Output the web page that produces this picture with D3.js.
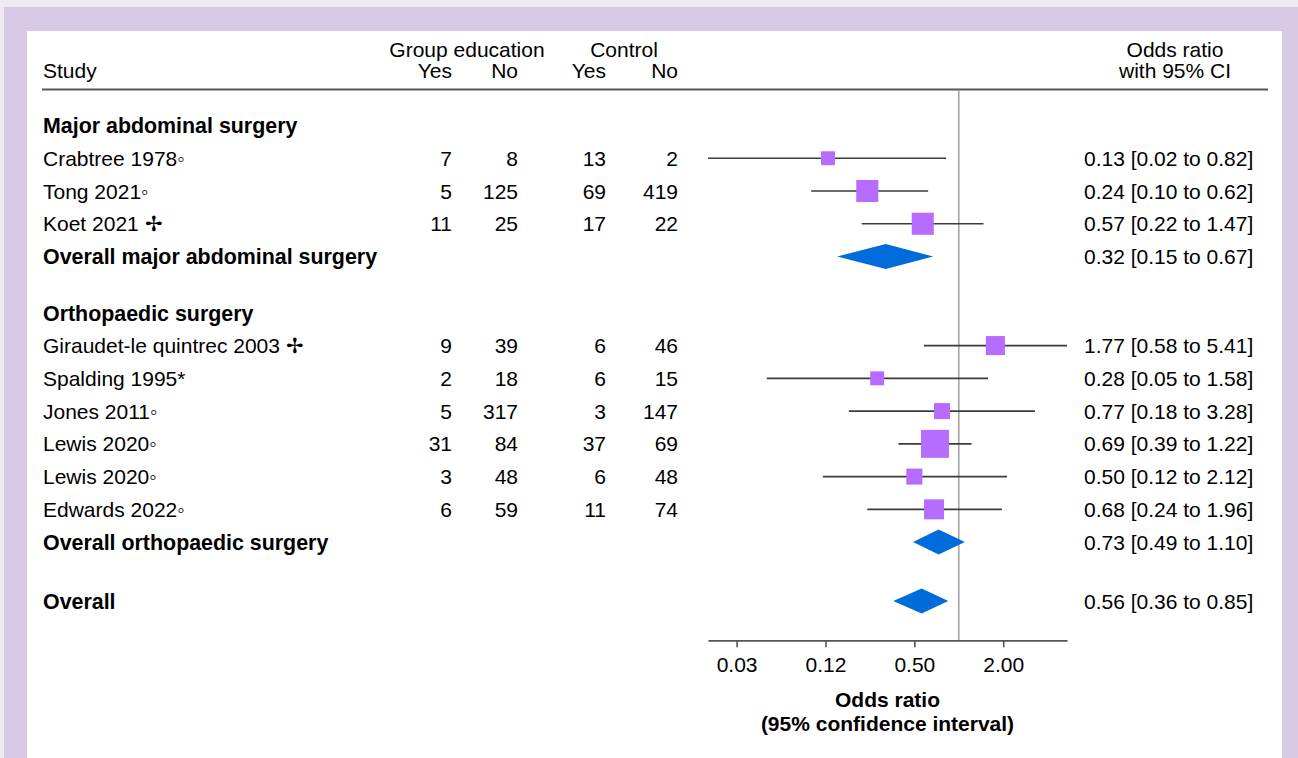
<!DOCTYPE html>
<html>
<head>
<meta charset="utf-8">
<script src="https://cdn.jsdelivr.net/npm/d3@7"></script>
<style>
body { margin: 0; background: #fff; }
text { font-family: "Liberation Sans", Arial, sans-serif; font-size: 21px; fill: #000; }
</style>
</head>
<body>
<div id="chart"></div>
<script>
// study level data
const studies = ["Crabtree 1978\u25E6", "Tong 2021\u25E6", "Koet 2021 \u2722",
    "Giraudet-le quintrec 2003 \u2722", "Spalding 1995*", "Jones 2011\u25E6",
    "Lewis 2020\u25E6", "Lewis 2020\u25E6", "Edwards 2022\u25E6"];
const sectionOf = [0, 0, 0, 1, 1, 1, 1, 1, 1];
const geYes = [7, 5, 11, 9, 2, 5, 31, 3, 6];
const geNo = [8, 125, 25, 39, 18, 317, 84, 48, 59];
const ctYes = [13, 69, 17, 6, 6, 3, 37, 6, 11];
const ctNo = [2, 419, 22, 46, 15, 147, 69, 48, 74];
const orEst = [0.13, 0.24, 0.57, 1.77, 0.28, 0.77, 0.69, 0.50, 0.68];
const orLow = [0.02, 0.10, 0.22, 0.58, 0.05, 0.18, 0.39, 0.12, 0.24];
const orHigh = [0.82, 0.62, 1.47, 5.41, 1.58, 3.28, 1.22, 2.12, 1.96];
// approximate weights (%)
const weights = [5.7, 14.2, 14.2, 10.6, 5.7, 7.5, 22.9, 7.5, 11.7];

// pooled estimates
const sections = ["Major abdominal surgery", "Orthopaedic surgery"];
const pooledLabels = ["Overall major abdominal surgery", "Overall orthopaedic surgery", "Overall"];
const pooledEst = [0.32, 0.73, 0.56];
const pooledLow = [0.15, 0.49, 0.36];
const pooledHigh = [0.67, 1.10, 0.85];

// axis ticks
const tickValues = [0.03125, 0.125, 0.5, 2];
const tickLabels = ["0.03", "0.12", "0.50", "2.00"];

const W = 1298, H = 758;
const fmt = d3.format(".2f");

//Build the list of rows in the order they are drawn
const rows = [];
let pos = 0;
sections.forEach((s, si) => {
    if (si > 0) pos += 0.72;
    rows.push({type: "section", label: s, pos: pos++});
    studies.forEach((st, i) => {
        if (sectionOf[i] !== si) return;
        rows.push({type: "study", i: i, label: st, pos: pos++});
    });
    rows.push({type: "pooled", i: si, label: pooledLabels[si], pos: pos++});
});
pos += 0.8;
rows.push({type: "pooled", i: 2, label: pooledLabels[2], pos: pos++});

const svg = d3.select("#chart").append("svg")
    .attr("width", W)
    .attr("height", H);

//Lavender frame with the white panel inside
svg.append("rect").attr("width", W).attr("height", H).attr("fill", "#efe9f3");
svg.append("rect").attr("x", 4).attr("y", 7).attr("width", W - 4).attr("height", H - 7).attr("fill", "#d8cae4");
svg.append("rect").attr("x", 27).attr("y", 31).attr("width", 1282 - 27).attr("height", H - 31).attr("fill", "#fff");

const y = d3.scaleLinear().domain([0, 1]).range([125.5, 158.25]);
const x = d3.scaleLog().base(2).domain([0.02, 5.41]).range([708, 1067]);
const boxSize = d3.scaleSqrt().domain([0, d3.max(weights)]).range([0, 28]);
const axisY = y(pos + 0.2);

//Column headers
const cols = [452, 518, 606, 678];
const head = svg.append("g");
head.append("text").attr("x", 43).attr("y", 78).text("Study");
head.append("text").attr("x", 467).attr("y", 57).attr("text-anchor", "middle").text("Group education");
head.append("text").attr("x", 624).attr("y", 57).attr("text-anchor", "middle").text("Control");
["Yes", "No", "Yes", "No"].forEach((t, i) => {
    head.append("text").attr("x", cols[i]).attr("y", 78).attr("text-anchor", "end").text(t);
});
head.append("text").attr("x", 1175).attr("y", 57).attr("text-anchor", "middle").text("Odds ratio");
head.append("text").attr("x", 1175).attr("y", 78).attr("text-anchor", "middle").text("with 95% CI");
head.append("line")
    .attr("x1", 42).attr("x2", 1268)
    .attr("y1", 89.5).attr("y2", 89.5)
    .attr("stroke", "#555").attr("stroke-width", 2);

//Line of no effect
svg.append("line")
    .attr("x1", x(1)).attr("x2", x(1))
    .attr("y1", 90).attr("y2", axisY)
    .attr("stroke", "#a0a0a0").attr("stroke-width", 1.5);

//Row labels
svg.selectAll("text.rowLabel")
    .data(rows)
    .join("text")
    .attr("class", "rowLabel")
    .attr("x", 43)
    .attr("y", d => y(d.pos))
    .attr("dy", "0.36em")
    .style("font-weight", d => d.type === "study" ? "normal" : "bold")
    .style("font-size", d => d.type === "study" ? "21px" : "21.4px")
    .text(d => d.label);

const studyRows = rows.filter(d => d.type === "study");
const pooledRows = rows.filter(d => d.type === "pooled");

//Counts
[geYes, geNo, ctYes, ctNo].forEach((arr, c) => {
    svg.selectAll("text.count" + c)
        .data(studyRows)
        .join("text")
        .attr("class", "count" + c)
        .attr("x", cols[c])
        .attr("y", d => y(d.pos))
        .attr("dy", "0.36em")
        .attr("text-anchor", "end")
        .text(d => arr[d.i]);
});

//Confidence intervals
svg.selectAll("line.ci")
    .data(studyRows)
    .join("line")
    .attr("class", "ci")
    .attr("x1", d => x(orLow[d.i]))
    .attr("x2", d => x(orHigh[d.i]))
    .attr("y1", d => y(d.pos))
    .attr("y2", d => y(d.pos))
    .attr("stroke", "#3c3c3c")
    .attr("stroke-width", 1.6);

//Study boxes sized by weight
svg.selectAll("rect.box")
    .data(studyRows)
    .join("rect")
    .attr("class", "box")
    .attr("x", d => x(orEst[d.i]) - boxSize(weights[d.i]) / 2)
    .attr("y", d => y(d.pos) - boxSize(weights[d.i]) / 2)
    .attr("width", d => boxSize(weights[d.i]))
    .attr("height", d => boxSize(weights[d.i]))
    .attr("fill", "#b56cff");

//Pooled diamonds
svg.selectAll("path.diamond")
    .data(pooledRows)
    .join("path")
    .attr("class", "diamond")
    .attr("d", d => {
        const yc = y(d.pos), h = 12.5;
        return "M" + x(pooledLow[d.i]) + "," + yc +
            "L" + x(pooledEst[d.i]) + "," + (yc - h) +
            "L" + x(pooledHigh[d.i]) + "," + yc +
            "L" + x(pooledEst[d.i]) + "," + (yc + h) + "Z";
    })
    .attr("fill", "#006bdb");

//Odds ratio text column
svg.selectAll("text.orText")
    .data(studyRows.concat(pooledRows))
    .join("text")
    .attr("class", "orText")
    .attr("x", 1084)
    .attr("y", d => y(d.pos))
    .attr("dy", "0.36em")
    .text(d => d.type === "study"
        ? fmt(orEst[d.i]) + " [" + fmt(orLow[d.i]) + " to " + fmt(orHigh[d.i]) + "]"
        : fmt(pooledEst[d.i]) + " [" + fmt(pooledLow[d.i]) + " to " + fmt(pooledHigh[d.i]) + "]");

//x axis
const axis = svg.append("g")
    .attr("transform", "translate(0," + axisY + ")")
    .call(d3.axisBottom(x)
        .tickValues(tickValues)
        .tickFormat((d, i) => tickLabels[i])
        .tickSize(7)
        .tickSizeOuter(0)
        .tickPadding(10));
axis.select(".domain").attr("stroke", "#555").attr("stroke-width", 1.6);
axis.selectAll(".tick line").attr("stroke", "#555").attr("stroke-width", 1.6);
axis.selectAll(".tick text")
    .attr("fill", "#000")
    .style("font-family", "'Liberation Sans', Arial, sans-serif")
    .style("font-size", "21px");

const mid = (x.range()[0] + x.range()[1]) / 2;
svg.append("text").attr("x", mid).attr("y", 707).attr("text-anchor", "middle")
    .style("font-weight", "bold").text("Odds ratio");
svg.append("text").attr("x", mid).attr("y", 731).attr("text-anchor", "middle")
    .style("font-weight", "bold").text("(95% confidence interval)");
</script>
</body>
</html>
